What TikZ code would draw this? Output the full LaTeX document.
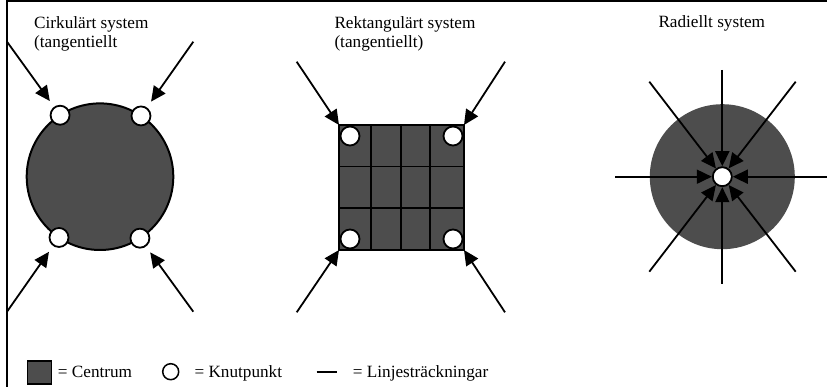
\documentclass[tikz,border=0pt]{standalone}
\usepackage{fontspec}
\setmainfont{Liberation Serif}
\usetikzlibrary{arrows.meta}
\definecolor{centrum}{RGB}{77,77,77}

\begin{document}
\begin{tikzpicture}[x=1pt,y=-1pt,
  lbl/.style={font=\fontsize{17.2}{19}\selectfont, inner sep=0, align=left, anchor=base west},
  arr/.style={line width=1.8pt, -{Triangle[length=15pt,width=14pt]}},
  knut/.style={circle, draw, line width=1.8pt, fill=white, minimum size=19pt, inner sep=0, outer sep=0},
  area/.style={fill=centrum, inner sep=0, outer sep=0},
]
\useasboundingbox (0,0) rectangle (827,387);

% frame on the top and left side
\draw[line width=2pt] (6.5,387) -- (6.5,1.5) -- (827,1.5);

% --- circular system (two-line title, anchored at the last baseline) ---
\node[lbl] (t1) at (34,47.5) {Cirkulärt system\\(tangentiellt};
\node[area, circle, draw, line width=2pt, minimum size=146.6pt] (cdisk) at (100,176.7) {};
\node[knut] (k1) at (cdisk.123.5) {};
\node[knut] (k2) at (cdisk.56.5) {};
\node[knut] (k3) at (cdisk.236.5) {};
\node[knut] (k4) at (cdisk.303.5) {};
\coordinate (c1) at (7,41.7);
\coordinate (c2) at (193.3,41.7);
\coordinate (c3) at (7,311.7);
\coordinate (c4) at (193.3,311.7);
\draw[arr, shorten >=8pt] (c1) -- (k1);
\draw[arr, shorten >=8pt] (c2) -- (k2);
\draw[arr, shorten >=8pt] (c3) -- (k3);
\draw[arr, shorten >=8pt] (c4) -- (k4);

% --- rectangular system ---
\node[lbl] (t2) at (334.3,47.5) {Rektangulärt system\\(tangentiellt)};
\node[area, draw, line width=1.6pt, minimum width=125pt, minimum height=125pt] (grid) at (401.5,187.5) {};
\draw[line width=1.6pt]
  (370.7,125) -- (370.7,250)
  (401,125) -- (401,250)
  (430,125) -- (430,250)
  (339,166.7) -- (464,166.7)
  (339,208.3) -- (464,208.3);
\node[knut] (g1) at (350,136) {};
\node[knut] (g2) at (453,136) {};
\node[knut] (g3) at (350,239) {};
\node[knut] (g4) at (453,239) {};
\coordinate (r1) at (296.7,61.7);
\coordinate (r2) at (505,61.7);
\coordinate (r3) at (296.7,312.3);
\coordinate (r4) at (505,312.3);
\draw[arr] (r1) -- (grid.north west);
\draw[arr] (r2) -- (grid.north east);
\draw[arr] (r3) -- (grid.south west);
\draw[arr] (r4) -- (grid.south east);

% --- radial system ---
\node[lbl] (t3) at (658.3,27.5) {Radiellt system};
\node[area, circle, minimum size=145pt] (rdisk) at (722.3,176.7) {};
\node[knut] (rk) at (rdisk.center) {};
\coordinate (s1) at (722.3,70);
\coordinate (s2) at (795.7,81.7);
\coordinate (s3) at (827,176.7);
\coordinate (s4) at (795.7,271.7);
\coordinate (s5) at (722.3,284);
\coordinate (s6) at (649.3,271.7);
\coordinate (s7) at (615,176.7);
\coordinate (s8) at (649.3,81.7);
\foreach \s in {s1,s2,s3,s4,s5,s6,s7,s8}
  \draw[arr, shorten >=1pt] (\s) -- (rk);

% --- legend ---
\node[area, draw, line width=1.8pt, minimum width=24pt, minimum height=23pt] (lc) at (39.5,372.2) {};
\node[lbl] (lct) at (57.7,377.3) {= Centrum};
\node[knut, minimum size=16pt, line width=1.5pt] (lk) at (170.7,371.7) {};
\node[lbl] (lkt) at (194.3,377.3) {= Knutpunkt};
\coordinate (la) at (316.7,371.7);
\coordinate (lb) at (336.7,371.7);
\draw[line width=2pt] (la) -- (lb);
\node[lbl] (llt) at (352.7,377.3) {= Linjesträckningar};
\end{tikzpicture}
\end{document}
